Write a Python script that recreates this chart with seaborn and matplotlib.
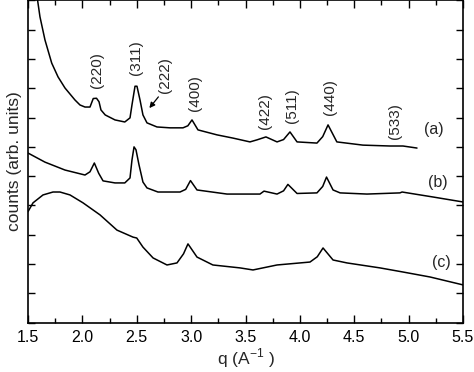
import matplotlib
matplotlib.use("Agg")
import matplotlib.pyplot as plt
import seaborn as sns
import pandas as pd
import numpy as np
from matplotlib.ticker import MultipleLocator

# ---- data (y in arbitrary units = y-tick steps) ----
q_a = [1.565, 1.61, 1.656, 1.718, 1.776, 1.84, 1.932, 1.978, 2.024, 2.07, 2.10, 2.13, 2.153, 2.171,
       2.21, 2.30, 2.39, 2.438, 2.456, 2.484, 2.502, 2.53, 2.557, 2.594, 2.686, 2.806, 2.925, 2.97,
       3.008, 3.063, 3.238, 3.385, 3.541, 3.606, 3.688, 3.79, 3.85, 3.909, 3.974, 4.157, 4.21, 4.259,
       4.34, 4.58, 4.829, 4.948, 5.077]
c_a = [11.6, 10.44, 9.65, 8.86, 8.39, 8.01, 7.60, 7.43, 7.36, 7.36, 7.65, 7.66, 7.54, 7.26,
       7.09, 6.92, 6.85, 6.99, 7.43, 8.07, 8.07, 7.6, 7.09, 6.82, 6.68, 6.65, 6.65, 6.72,
       6.92, 6.58, 6.41, 6.30, 6.17, 6.24, 6.34, 6.17, 6.25, 6.51, 6.17, 6.13, 6.35, 6.75,
       6.17, 6.06, 6.03, 6.03, 5.96]

q_b = [1.5, 1.656, 1.84, 2.024, 2.07, 2.11, 2.15, 2.19, 2.30, 2.39, 2.438, 2.456, 2.475, 2.493,
       2.52, 2.557, 2.594, 2.695, 2.898, 2.95, 2.994, 3.054, 3.33, 3.633, 3.67, 3.79, 3.85, 3.89,
       3.974, 4.157, 4.21, 4.245, 4.305, 4.37, 4.617, 4.92, 4.94, 5.224, 5.5]
c_b = [5.79, 5.48, 5.21, 5.04, 5.15, 5.45, 5.10, 4.84, 4.77, 4.77, 4.94, 5.55, 6.0, 5.9,
       5.4, 4.8, 4.6, 4.46, 4.46, 4.55, 4.85, 4.53, 4.39, 4.39, 4.49, 4.39, 4.50, 4.72,
       4.41, 4.43, 4.65, 4.97, 4.53, 4.43, 4.39, 4.43, 4.46, 4.29, 4.12]

q_c = [1.5, 1.546, 1.638, 1.73, 1.794, 1.886, 2.006, 2.162, 2.318, 2.466, 2.50, 2.557, 2.65, 2.778,
       2.87, 2.93, 2.971, 3.054, 3.20, 3.45, 3.569, 3.79, 4.093, 4.16, 4.213, 4.305, 4.433, 4.737,
       4.948, 5.197, 5.5]
c_c = [3.79, 4.09, 4.36, 4.46, 4.46, 4.36, 4.09, 3.68, 3.16, 2.92, 2.89, 2.58, 2.21, 1.97,
       2.04, 2.35, 2.69, 2.24, 1.97, 1.87, 1.80, 1.97, 2.07, 2.25, 2.55, 2.14, 2.04, 1.87,
       1.73, 1.56, 1.29]

samples = ["(a)", "(b)", "(c)"]

peak_labels = ["(220)", "(311)", "(222)", "(400)", "(422)", "(511)", "(440)", "(533)"]
peak_q = [2.134, 2.493, 2.76, 3.036, 3.68, 3.93, 4.277, 4.875]
peak_y = [8.62, 9.03, 8.45, 7.84, 7.23, 7.40, 7.70, 6.88]

sample_label_q = [5.233, 5.27, 5.30]
sample_label_y = [6.61, 4.77, 2.04]

xticks = [1.5, 2.0, 2.5, 3.0, 3.5, 4.0, 4.5, 5.0, 5.5]

# ---- plotting ----
sns.set_theme(style="ticks")
plt.rcParams['font.family'] = ['Liberation Sans', 'DejaVu Sans']
plt.rcParams['mathtext.fontset'] = 'custom'
plt.rcParams['mathtext.rm'] = 'Liberation Sans'

df = pd.concat([
    pd.DataFrame({"q": q_a, "counts": c_a, "sample": "(a)"}),
    pd.DataFrame({"q": q_b, "counts": c_b, "sample": "(b)"}),
    pd.DataFrame({"q": q_c, "counts": c_c, "sample": "(c)"}),
])

fig = plt.figure(figsize=(4.74, 3.72), dpi=100)
ax = fig.add_axes([28/474, 1 - 322.7/372, (463-28)/474, 322.7/372 - 0.001])

sns.lineplot(data=df, x="q", y="counts", units="sample", estimator=None, sort=False,
             color="black", linewidth=1.1, ax=ax, legend=False)

ax.set_xlim(1.5, 5.5)
ax.set_ylim(0, 11)
ax.set_xticks(xticks)
ax.set_xticklabels([f"{t:.1f}" for t in xticks])
ax.xaxis.set_minor_locator(MultipleLocator(0.25))
ax.set_yticks(np.arange(0, 12, 1))
ax.set_yticklabels([])
ax.tick_params(axis="both", which="both", direction="in", top=True, right=True, width=1.0,
               colors="black")
ax.tick_params(axis="x", which="major", length=6, labelsize=11.5, pad=5)
ax.tick_params(axis="x", which="minor", length=3.5)
ax.tick_params(axis="y", which="major", length=5)
for s in ax.spines.values():
    s.set_linewidth(1.2)
    s.set_color("black")

ax.set_xlabel("q (A$^{-1}$ )", fontsize=12.5, labelpad=1)
ax.set_ylabel("counts (arb. units)", fontsize=12.5, labelpad=1)

for lab, xq, yv in zip(peak_labels, peak_q, peak_y):
    ax.text(xq, yv, lab, rotation=90, ha="center", va="center", fontsize=11)

# arrow for (222)
ax.annotate("", xy=(2.60, 7.25), xytext=(2.715, 7.78),
            arrowprops=dict(arrowstyle="-|>", color="black", lw=0.9, mutation_scale=8))

for lab, xq, yv in zip(samples, sample_label_q, sample_label_y):
    ax.text(xq, yv, lab, ha="center", va="center", fontsize=11.5)

fig.savefig("out.png", dpi=100)
